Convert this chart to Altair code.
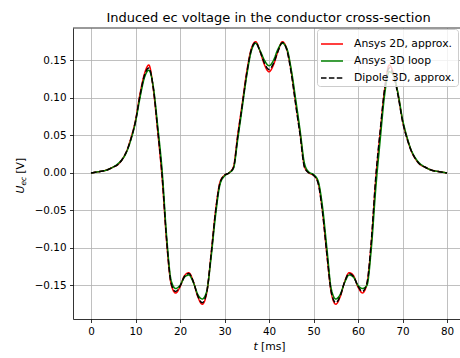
import altair as alt
import pandas as pd

t_ms = list(range(0, 81))
series_names = ["Ansys 2D, approx.", "Ansys 3D loop", "Dipole 3D, approx."]

ansys2d = [0.000, 0.001, 0.002, 0.003, 0.005, 0.008, 0.011, 0.018, 0.029, 0.047,
           0.070, 0.105, 0.132, 0.144, 0.112, 0.055, -0.008, -0.092, -0.148, -0.160,
           -0.152, -0.137, -0.133, -0.145, -0.165, -0.175, -0.160, -0.108, -0.050, -0.012,
           -0.003, 0.000, 0.008, 0.052, 0.093, 0.135, 0.165, 0.175, 0.162, 0.144,
           0.135, 0.144, 0.162, 0.175, 0.165, 0.135, 0.093, 0.052, 0.008, 0.000,
           -0.003, -0.012, -0.050, -0.108, -0.160, -0.175, -0.165, -0.145, -0.133, -0.137,
           -0.152, -0.160, -0.148, -0.092, -0.008, 0.055, 0.112, 0.144, 0.132, 0.105,
           0.070, 0.047, 0.029, 0.018, 0.011, 0.008, 0.005, 0.003, 0.002, 0.001, 0.000]

ansys3d = [0.000, 0.001, 0.002, 0.003, 0.005, 0.008, 0.012, 0.018, 0.028, 0.045,
           0.068, 0.100, 0.127, 0.137, 0.115, 0.062, 0.002, -0.085, -0.143, -0.154,
           -0.150, -0.139, -0.136, -0.146, -0.162, -0.168, -0.158, -0.112, -0.056, -0.015,
           -0.004, 0.000, 0.006, 0.046, 0.088, 0.130, 0.162, 0.173, 0.163, 0.150,
           0.143, 0.150, 0.165, 0.173, 0.166, 0.138, 0.098, 0.056, 0.012, 0.001,
           -0.002, -0.010, -0.044, -0.100, -0.155, -0.168, -0.162, -0.146, -0.136, -0.139,
           -0.150, -0.154, -0.150, -0.100, -0.020, 0.045, 0.105, 0.135, 0.130, 0.106,
           0.072, 0.048, 0.030, 0.019, 0.012, 0.008, 0.005, 0.003, 0.002, 0.001, 0.000]

dipole3d = [0.000, 0.001, 0.002, 0.003, 0.005, 0.008, 0.011, 0.018, 0.029, 0.046,
            0.069, 0.103, 0.130, 0.140, 0.113, 0.057, -0.005, -0.090, -0.147, -0.158,
            -0.151, -0.138, -0.134, -0.145, -0.164, -0.173, -0.159, -0.108, -0.051, -0.013,
            -0.003, 0.000, 0.007, 0.050, 0.091, 0.133, 0.164, 0.174, 0.162, 0.146,
            0.138, 0.146, 0.162, 0.174, 0.164, 0.133, 0.091, 0.050, 0.007, 0.000,
            -0.003, -0.013, -0.051, -0.108, -0.159, -0.173, -0.164, -0.145, -0.134, -0.138,
            -0.151, -0.158, -0.147, -0.090, -0.005, 0.057, 0.113, 0.140, 0.130, 0.103,
            0.069, 0.046, 0.029, 0.018, 0.011, 0.008, 0.005, 0.003, 0.002, 0.001, 0.000]

x_ticks = [0, 10, 20, 30, 40, 50, 60, 70, 80]
y_ticks = [-0.15, -0.10, -0.05, 0.00, 0.05, 0.10, 0.15]
line_colors = ["#ff0000", "#008000", "#000000"]
line_dashes = [[1, 0], [1, 0], [5.5, 2.4]]

rows = []
for name, vals in zip(series_names, [ansys2d, ansys3d, dipole3d]):
    for t, v in zip(t_ms, vals):
        rows.append({"t": t, "u": v, "series": name})
df = pd.DataFrame(rows)

W, H = 387, 291
FONT = "DejaVu Sans"

xscale = alt.Scale(domain=[-4.045, 82.92], nice=False, zero=False)
yscale = alt.Scale(domain=[-0.1947, 0.1933], nice=False, zero=False)

legend = alt.Legend(title=None, orient="none", legendX=244, legendY=1,
                    symbolType="stroke", symbolSize=484, symbolStrokeWidth=1.5,
                    labelFontSize=10.8, labelFont=FONT, labelColor="black",
                    labelOffset=10, padding=3, rowPadding=0,
                    strokeColor="#cccccc", fillColor="rgba(255,255,255,0.8)",
                    cornerRadius=3)

base = alt.Chart(df).encode(
    x=alt.X("t:Q", scale=xscale,
            axis=alt.Axis(values=x_ticks, title=None, grid=True, format="d")),
    y=alt.Y("u:Q", scale=yscale,
            axis=alt.Axis(values=y_ticks, title=None, grid=True, format=".2f")),
    color=alt.Color("series:N", scale=alt.Scale(domain=series_names, range=line_colors), legend=legend),
    strokeDash=alt.StrokeDash("series:N", scale=alt.Scale(domain=series_names, range=line_dashes), legend=legend),
)

layers = []
for name in series_names:
    layers.append(base.transform_filter(alt.datum.series == name)
                  .mark_line(strokeWidth=1.5, interpolate="monotone"))

one = pd.DataFrame({"a": [0]})

top_rule = alt.Chart(one).mark_rule(color="black", strokeWidth=0.8).encode(
    x=alt.value(0), x2=alt.value(W + 10), y=alt.value(0))

title = alt.Chart(one).mark_text(
    text="Induced ec voltage in the conductor cross-section", fontSize=13, font=FONT,
    color="black", align="center", baseline="alphabetic").encode(
    x=alt.value(195.5), y=alt.value(-6.5))

xt1 = alt.Chart(one).mark_text(text="t", fontSize=10.8, font=FONT, fontStyle="italic",
                               color="black", align="left", baseline="alphabetic").encode(
    x=alt.value(180.4), y=alt.value(322))
xt2 = alt.Chart(one).mark_text(text="[ms]", fontSize=10.8, font=FONT,
                               color="black", align="left", baseline="alphabetic").encode(
    x=alt.value(188), y=alt.value(322))

yt1 = alt.Chart(one).mark_text(text="U", fontSize=10.8, font=FONT, fontStyle="italic", angle=270,
                               color="black", align="left", baseline="alphabetic").encode(
    x=alt.value(-49), y=alt.value(165.5))
yt2 = alt.Chart(one).mark_text(text="ec", fontSize=7.6, font=FONT, fontStyle="italic", angle=270,
                               color="black", align="left", baseline="alphabetic").encode(
    x=alt.value(-47), y=alt.value(157.6))
yt3 = alt.Chart(one).mark_text(text="[V]", fontSize=10.8, font=FONT, angle=270,
                               color="black", align="left", baseline="alphabetic").encode(
    x=alt.value(-49), y=alt.value(145.7))

chart = alt.layer(*layers, top_rule, title, xt1, xt2, yt1, yt2, yt3).properties(
    width=W, height=H,
    autosize=alt.AutoSizeParams(type="none"),
    padding={"left": 73, "top": 28, "right": 0, "bottom": 39},
).configure(font=FONT).configure_view(stroke=None).configure_axis(
    gridColor="#b0b0b0", gridWidth=0.8, gridOpacity=1,
    domainColor="black", domainWidth=0.8,
    tickColor="black", tickWidth=0.8, tickSize=3.5,
    labelFont=FONT, labelFontSize=10.4, labelColor="black", labelPadding=3.5,
)

chart.save("out.html", embed_options={"renderer": "svg", "actions": False})
